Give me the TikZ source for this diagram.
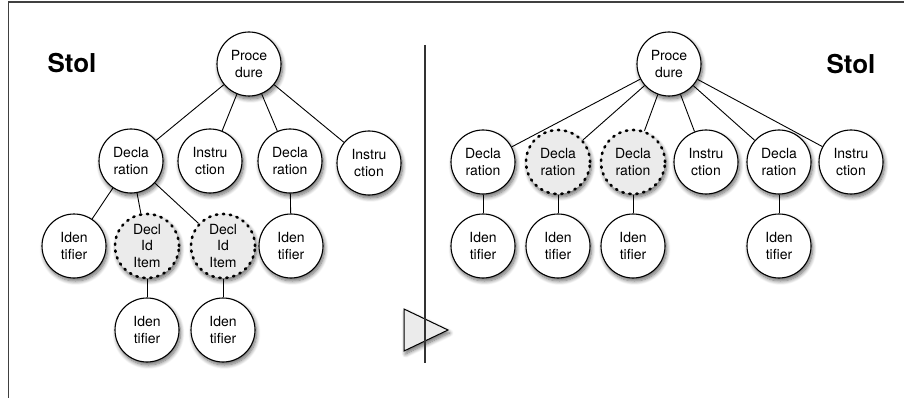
\documentclass[tikz,border=0pt]{standalone}
\usepackage{fontspec}
\setmainfont{TeX Gyre Heros}
\usetikzlibrary{shadows.blur}
\definecolor{nodegray}{HTML}{EBEBEB}
\tikzset{
  shd/.style={blur shadow={shadow xshift=1.5pt, shadow yshift=-3pt, shadow blur steps=8, shadow blur radius=4pt, shadow opacity=60}},
  nd/.style={circle, draw=black, line width=1.1pt, fill=white, minimum size=64pt, inner sep=0pt,
    align=center, font=\fontsize{14}{16.5}\selectfont, shd},
  dnd/.style={nd, fill=nodegray, dash pattern=on 1.4pt off 5.6pt, line cap=round, line width=2.6pt},
  edge/.style={draw=black, line width=0.9pt},
  title/.style={font=\fontsize{26}{26}\selectfont\bfseries}
}
\begin{document}
\begin{tikzpicture}[x=1pt, y=1pt, yscale=-1]
\useasboundingbox (0,0) rectangle (904,398);
% frame
\draw[line width=1.5pt, draw=black!75] (8.5,398) -- (8.5,2) -- (904,2);
% titles
\node[title] (t1) at (72,63) {Stol};
\node[title] (t2) at (851,64) {Stol};
% left tree
\node[nd] (p) at (249,64) {Proce\\dure};
\node[nd] (d1) at (131,161) {Decla\\ration};
\node[nd] (i1) at (210,161) {Instru\\ction};
\node[nd] (d2) at (290,161) {Decla\\ration};
\node[nd] (i2) at (369,163) {Instru\\ction};
\node[nd] (id1) at (74,246) {Iden\\tifier};
\node[dnd] (x1) at (147,246) {Decl\\Id\\Item};
\node[dnd] (x2) at (223,246) {Decl\\Id\\Item};
\node[nd] (id2) at (291,246) {Iden\\tifier};
\node[nd] (id3) at (147,330) {Iden\\tifier};
\node[nd] (id4) at (223,330) {Iden\\tifier};
\draw[edge] (p) -- (d1);
\draw[edge] (p) -- (i1);
\draw[edge] (p) -- (d2);
\draw[edge] (p) -- (i2);
\draw[edge] (d1) -- (id1);
\draw[edge] (d1) -- (x1);
\draw[edge] (d1) -- (x2);
\draw[edge] (d2) -- (id2);
\draw[edge] (x1) -- (id3);
\draw[edge] (x2) -- (id4);
% right tree
\node[nd] (q) at (669,64) {Proce\\dure};
\node[nd] (e1) at (483,162) {Decla\\ration};
\node[dnd] (e2) at (558,162) {Decla\\ration};
\node[dnd] (e3) at (633,162) {Decla\\ration};
\node[nd] (j1) at (706,162) {Instru\\ction};
\node[nd] (e4) at (779,162) {Decla\\ration};
\node[nd] (j2) at (851,162) {Instru\\ction};
\node[nd] (f1) at (483,246) {Iden\\tifier};
\node[nd] (f2) at (558,246) {Iden\\tifier};
\node[nd] (f3) at (633,246) {Iden\\tifier};
\node[nd] (f4) at (779,246) {Iden\\tifier};
\draw[edge] (q) -- (e1);
\draw[edge] (q) -- (e2);
\draw[edge] (q) -- (e3);
\draw[edge] (q) -- (j1);
\draw[edge] (q) -- (e4);
\draw[edge] (q) -- (j2);
\draw[edge] (e1) -- (f1);
\draw[edge] (e2) -- (f2);
\draw[edge] (e3) -- (f3);
\draw[edge] (e4) -- (f4);
% divider and arrow
\coordinate (a1) at (404,309);
\coordinate (a2) at (404,351);
\coordinate (a3) at (448,330);
\draw[line width=1pt, fill=nodegray, shd] (a1) -- (a3) -- (a2) -- cycle;
\coordinate (v1) at (425,45);
\coordinate (v2) at (425,363);
\draw[line width=1.1pt, draw=black!80] (v1) -- (v2);
\end{tikzpicture}
\end{document}
